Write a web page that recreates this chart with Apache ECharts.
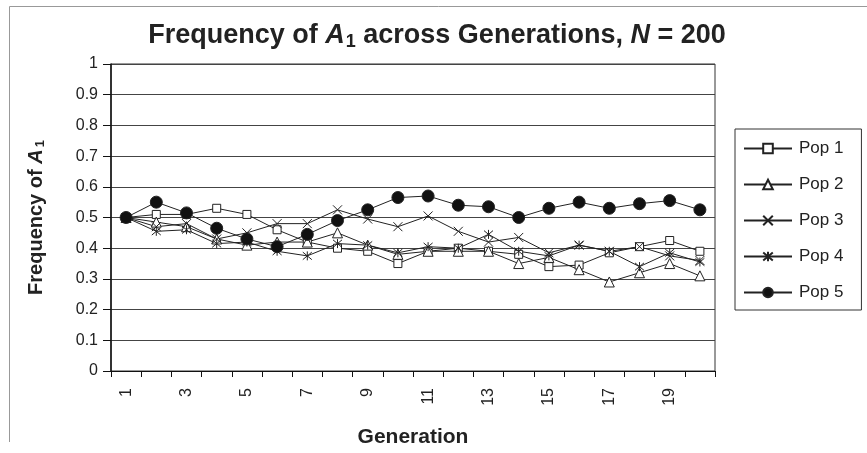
<!DOCTYPE html>
<html>
<head>
<meta charset="utf-8">
<script src="https://cdn.jsdelivr.net/npm/echarts@6/dist/echarts.min.js"></script>
<style>
html, body { margin: 0; padding: 0; background: #fff; }
#chart { width: 867px; height: 453px; }
</style>
</head>
<body>
<div id="chart"></div>
<script>
var generations = ['1','2','3','4','5','6','7','8','9','10','11','12','13','14','15','16','17','18','19','20'];
var pop1 = [0.50,0.51,0.51,0.53,0.51,0.46,0.42,0.40,0.39,0.35,0.39,0.40,0.39,0.38,0.34,0.345,0.385,0.405,0.425,0.39];
var pop2 = [0.50,0.485,0.47,0.43,0.41,0.42,0.42,0.45,0.41,0.38,0.39,0.39,0.39,0.35,0.37,0.33,0.29,0.32,0.35,0.31];
var pop3 = [0.50,0.47,0.48,0.43,0.45,0.48,0.48,0.525,0.495,0.47,0.505,0.455,0.42,0.435,0.385,0.41,0.39,0.405,0.375,0.36];
var pop4 = [0.50,0.455,0.46,0.415,0.42,0.39,0.375,0.415,0.41,0.385,0.405,0.40,0.445,0.39,0.375,0.41,0.39,0.34,0.385,0.355];
var pop5 = [0.50,0.55,0.515,0.465,0.43,0.405,0.445,0.49,0.525,0.565,0.57,0.54,0.535,0.50,0.53,0.55,0.53,0.545,0.555,0.525];

var FONT = 'Liberation Sans, Arial, sans-serif';
var INK = '#222';

var xPath = 'path://M0,0L10,10M10,0L0,10';
var starPath = 'path://M0,0L10,10M10,0L0,10M5,-1L5,11';

function makeSeries(name, data, symbol, size, fill){
    return {
        name: name,
        type: 'line',
        data: data,
        symbol: symbol,
        symbolSize: size,
        showAllSymbol: true,
        animation: false,
        lineStyle: { color: INK, width: 1 },
        itemStyle: { color: fill, borderColor: INK, borderWidth: 1 },
        emphasis: { disabled: true }
    };
}

var chart = echarts.init(document.getElementById('chart'));
var option = {
    backgroundColor: '#fff',
    animation: false,
    textStyle: { fontFamily: FONT, color: INK },
    title: {
        left: 432,
        textAlign: 'center',
        top: 15,
        text: '{b|Frequency of }{i|A}{s|1}{b| across Generations, }{i|N}{b| = 200}',
        textStyle: {
            rich: {
                b: { fontFamily: FONT, fontSize: 27, fontWeight: 'bold', color: INK },
                i: { fontFamily: FONT, fontSize: 27, fontWeight: 'bold', fontStyle: 'italic', color: INK },
                s: { fontFamily: FONT, fontSize: 18, fontWeight: 'bold', color: INK, padding: [13, 0, 0, 1] }
            }
        }
    },
    legend: {
        orient: 'vertical',
        left: 735,
        top: 129,
        padding: [11, 18, 9, 8],
        itemWidth: 48,
        itemHeight: 12,
        itemGap: 19,
        borderColor: '#333',
        borderWidth: 1,
        textStyle: { fontFamily: FONT, fontSize: 17, color: INK, padding: [0, 0, 0, 2] },
        data: ['Pop 1','Pop 2','Pop 3','Pop 4','Pop 5']
    },
    grid: {
        left: 111, top: 64, right: 152, bottom: 74,
        show: true, borderColor: '#333', borderWidth: 1, containLabel: false
    },
    xAxis: {
        type: 'category',
        data: generations,
        boundaryGap: true,
        name: 'Generation',
        nameLocation: 'middle',
        nameGap: 56,
        nameTextStyle: { fontFamily: FONT, fontSize: 21, fontWeight: 'bold', color: INK },
        axisLine: { lineStyle: { color: '#111', width: 1 } },
        axisTick: { show: true, interval: 0, length: 6, lineStyle: { color: '#111' } },
        axisLabel: { interval: 1, rotate: 90, margin: 17, fontFamily: FONT, fontSize: 16, color: INK },
        splitLine: { show: false }
    },
    yAxis: {
        type: 'value',
        min: 0, max: 1, interval: 0.1,
        name: '{b|Frequency of }{i|A}{s|1}',
        nameLocation: 'middle',
        nameGap: 64,
        nameRotate: 90,
        nameTextStyle: {
            rich: {
                b: { fontFamily: FONT, fontSize: 20, fontWeight: 'bold', color: INK },
                i: { fontFamily: FONT, fontSize: 20, fontWeight: 'bold', fontStyle: 'italic', color: INK },
                s: { fontFamily: FONT, fontSize: 13, fontWeight: 'bold', color: INK, padding: [9, 0, 0, 2] }
            }
        },
        axisLine: { show: true, lineStyle: { color: '#111', width: 1.5 } },
        axisTick: { show: true, length: 8, lineStyle: { color: '#111' } },
        axisLabel: { margin: 13, fontFamily: FONT, fontSize: 16, color: INK },
        splitLine: { show: true, lineStyle: { color: '#444', width: 1 } }
    },
    graphic: [
        { type: 'line', shape: { x1: 9.5, y1: 6.5, x2: 867, y2: 6.5 }, style: { stroke: '#999', lineWidth: 1 } },
        { type: 'line', shape: { x1: 9.5, y1: 6.5, x2: 9.5, y2: 442 }, style: { stroke: '#999', lineWidth: 1 } }
    ],
    series: [
        makeSeries('Pop 1', pop1, 'rect', 8, '#fff'),
        makeSeries('Pop 2', pop2, 'triangle', 10, '#fff'),
        makeSeries('Pop 3', pop3, xPath, 9, 'rgba(0,0,0,0)'),
        makeSeries('Pop 4', pop4, starPath, 9, 'rgba(0,0,0,0)'),
        makeSeries('Pop 5', pop5, 'circle', 12, '#111')
    ]
};
chart.setOption(option);
</script>
</body>
</html>
